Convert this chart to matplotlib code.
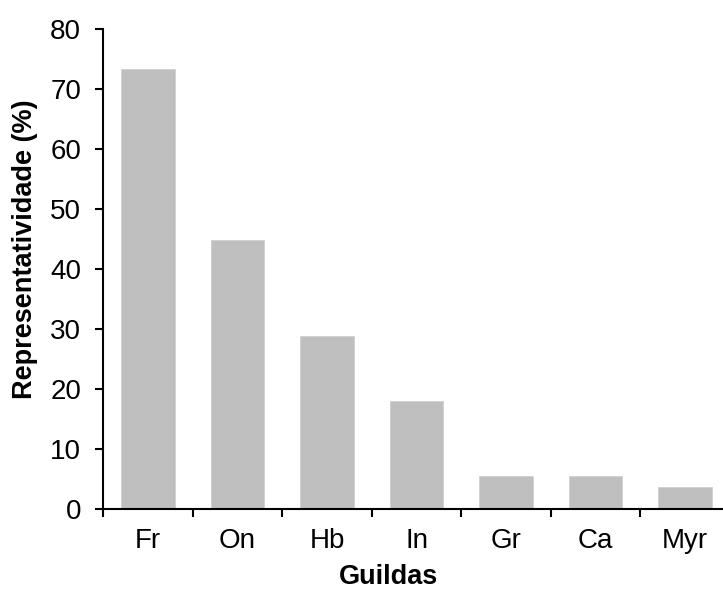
import matplotlib
matplotlib.use("Agg")
from matplotlib import pyplot as plt
import numpy as np

guildas = ["Fr", "On", "Hb", "In", "Gr", "Ca", "Myr"]
representatividade = [73.4, 44.8, 28.8, 18.0, 5.5, 5.5, 3.7]
y_ticks = [0, 10, 20, 30, 40, 50, 60, 70, 80]

plt.rcParams["font.family"] = ["Liberation Sans", "DejaVu Sans"]

fig = plt.figure(figsize=(7.23, 5.9), dpi=100)
# axes runs slightly past the right edge, as in the original
ax = fig.add_axes([103.3 / 723, 81 / 590, 626.5 / 723, 480 / 590])

pos = np.arange(len(guildas))
ax.bar(pos, representatividade, width=0.6, color="#bfbfbf", edgecolor="#d0d0d0", linewidth=0.6)

ax.set_xlim(-0.5, len(guildas) - 0.5)
ax.set_ylim(0, 80)
ax.set_yticks(y_ticks)
ax.set_yticklabels([str(v) for v in y_ticks])

# tick marks on category boundaries, labels centered on bars
ax.set_xticks(np.arange(len(guildas) + 1) - 0.5)
ax.set_xticklabels([])
ax.set_xticks(pos, minor=True)
ax.set_xticklabels(guildas, minor=True)

ax.tick_params(axis="x", which="major", direction="out", length=6, width=1.5, color="black")
ax.tick_params(axis="x", which="minor", length=0, labelsize=20, pad=14)
ax.tick_params(axis="y", direction="out", length=6, width=1.5, labelsize=20, pad=10)

for side in ["top", "right"]:
    ax.spines[side].set_visible(False)
for side in ["left", "bottom"]:
    ax.spines[side].set_linewidth(1.5)

ax.set_ylabel("Representatividade (%)", fontsize=19.5, fontweight="bold")
ax.set_xlabel("Guildas", fontsize=19.5, fontweight="bold")
ax.yaxis.set_label_coords(-0.104, 0.542)
ax.xaxis.set_label_coords(0.456, -0.114)

fig.savefig("out.png", dpi=100)
